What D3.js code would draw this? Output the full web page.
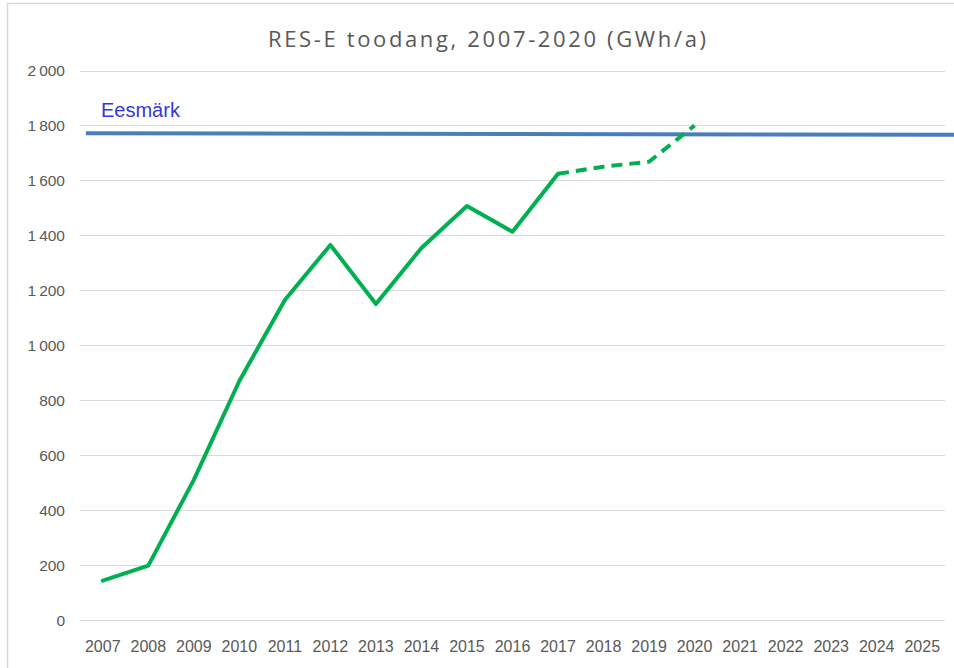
<!DOCTYPE html>
<html>
<head>
<meta charset="utf-8">
<script src="https://cdn.jsdelivr.net/npm/d3@7"></script>
<style>
  body { margin: 0; background: #fff; }
  svg { display: block; }
</style>
</head>
<body>
<div id="chart"></div>
<script>
// data
const years = d3.range(2007, 2026);
const actualYears = [2007, 2008, 2009, 2010, 2011, 2012, 2013, 2014, 2015, 2016, 2017];
const actualValues = [143, 198, 510, 870, 1165, 1365, 1150, 1354, 1507, 1413, 1624];
const forecastYears = [2017, 2018, 2019, 2020];
const forecastValues = [1624, 1650, 1668, 1800];
const targetYears = [2006.63, 2025.72];
const targetValues = [1772, 1766];
const yTicks = [0, 200, 400, 600, 800, 1000, 1200, 1400, 1600, 1800, 2000];

const width = 954, height = 668;
const plot = {left: 80, right: 945, top: 70.5, bottom: 620};

const svg = d3.select("#chart").append("svg")
  .attr("width", width)
  .attr("height", height);

// chart frame (only top and left edges are visible)
svg.append("path")
  .attr("d", `M7.5,${height}V3.5H${width}`)
  .attr("fill", "none")
  .attr("stroke", "#d9d9d9")
  .attr("stroke-width", 1.5);

const x = d3.scaleLinear()
  .domain([2006.5, 2025.5])
  .range([plot.left, plot.right]);

const y = d3.scaleLinear()
  .domain([0, 2000])
  .range([plot.bottom, plot.top]);

// gridlines
svg.append("g")
  .selectAll("line")
  .data(yTicks)
  .join("line")
    .attr("x1", plot.left)
    .attr("x2", plot.right)
    .attr("y1", d => Math.round(y(d)) + 0.5)
    .attr("y2", d => Math.round(y(d)) + 0.5)
    .attr("stroke", "#d9d9d9")
    .attr("stroke-width", 1);

const fmt = d => d3.format(",")(d).replace(",", "\u2009");

// y labels
svg.append("g")
  .selectAll("text")
  .data(yTicks)
  .join("text")
    .attr("x", 65)
    .attr("y", d => y(d))
    .attr("dy", "0.36em")
    .attr("text-anchor", "end")
    .attr("font-family", "Liberation Sans, Arial, sans-serif")
    .attr("font-size", 15.5)
    .attr("fill", "#595959")
    .text(d => d === 0 ? "0" : fmt(d));

// x labels
svg.append("g")
  .selectAll("text")
  .data(years)
  .join("text")
    .attr("x", d => x(d))
    .attr("y", 652)
    .attr("text-anchor", "middle")
    .attr("font-family", "Liberation Sans, Arial, sans-serif")
    .attr("font-size", 16)
    .attr("fill", "#595959")
    .text(d => d);

// title
svg.append("text")
  .attr("x", 487)
  .attr("y", 47)
  .attr("text-anchor", "middle")
  .attr("font-family", "Open Sans, sans-serif")
  .attr("font-size", 22)
  .attr("fill", "#595959")
  .attr("textLength", 438)
  .attr("lengthAdjust", "spacing")
  .text("RES-E toodang, 2007-2020 (GWh/a)");

const line = d3.line()
  .x(d => x(d[0]))
  .y(d => y(d[1]));

// target line
svg.append("path")
  .datum(d3.zip(targetYears, targetValues))
  .attr("d", line)
  .attr("fill", "none")
  .attr("stroke", "#4a7ebb")
  .attr("stroke-width", 4);

svg.append("text")
  .attr("x", 101)
  .attr("y", 117)
  .attr("font-family", "Liberation Sans, Arial, sans-serif")
  .attr("font-size", 20)
  .attr("fill", "#3535e0")
  .text("Eesmärk");

// actual production
svg.append("path")
  .datum(d3.zip(actualYears, actualValues))
  .attr("d", line)
  .attr("fill", "none")
  .attr("stroke", "#00b050")
  .attr("stroke-width", 4)
  .attr("stroke-linejoin", "round")
  .attr("stroke-linecap", "round");

// forecast
svg.append("path")
  .datum(d3.zip(forecastYears, forecastValues))
  .attr("d", line)
  .attr("fill", "none")
  .attr("stroke", "#00b050")
  .attr("stroke-width", 4)
  .attr("stroke-linejoin", "round")
  .attr("stroke-dasharray", "11,7");
</script>
</body>
</html>
